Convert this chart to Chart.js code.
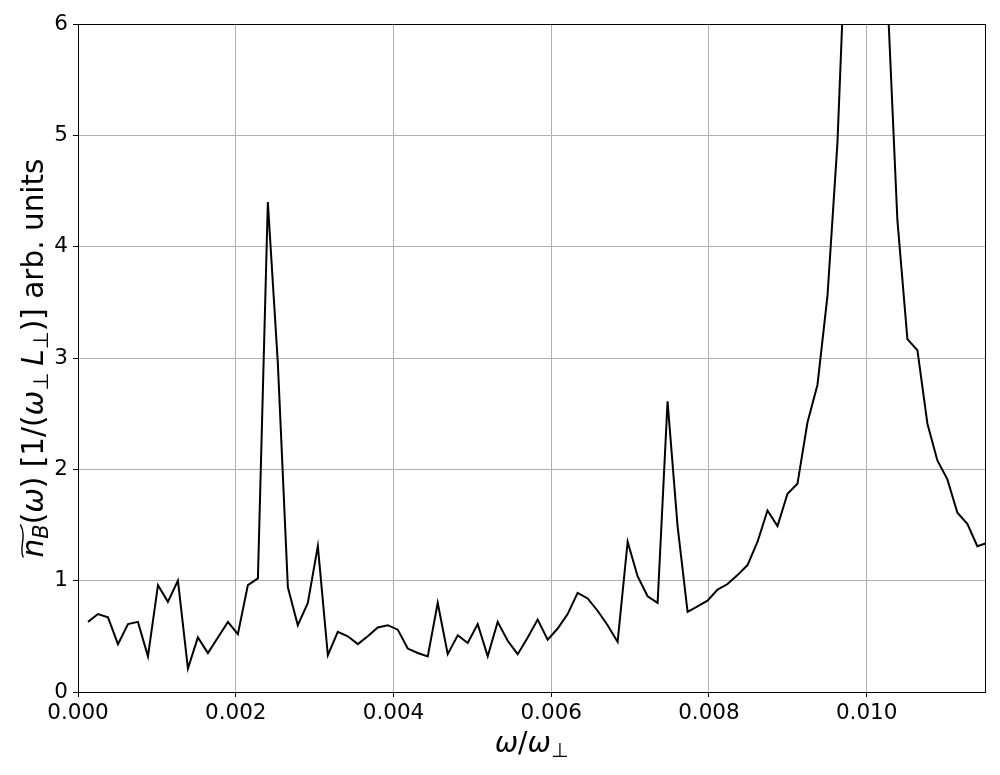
<!DOCTYPE html>
<html>
<head>
<meta charset="utf-8">
<script src="https://cdn.jsdelivr.net/npm/chart.js@4.4.1/dist/chart.umd.min.js"></script>
<style>
  html, body { margin: 0; padding: 0; background: #fff; }
  canvas { display: block; }
</style>
</head>
<body>
<canvas id="spectrum" width="1000" height="775"></canvas>
<script>
// frequency grid (omega / omega_perp)
const omega = [
  0.000127, 0.000253, 0.000380, 0.000507, 0.000634, 0.000760, 0.000887, 0.001014, 0.001140, 0.001267,
  0.001394, 0.001520, 0.001647, 0.001774, 0.001901, 0.002027, 0.002154, 0.002281, 0.002407, 0.002534,
  0.002661, 0.002787, 0.002914, 0.003041, 0.003168, 0.003294, 0.003421, 0.003548, 0.003674, 0.003801,
  0.003928, 0.004054, 0.004181, 0.004308, 0.004435, 0.004561, 0.004688, 0.004815, 0.004941, 0.005068,
  0.005195, 0.005321, 0.005448, 0.005575, 0.005702, 0.005828, 0.005955, 0.006082, 0.006208, 0.006335,
  0.006462, 0.006588, 0.006715, 0.006842, 0.006969, 0.007095, 0.007222, 0.007349, 0.007475, 0.007602,
  0.007729, 0.007855, 0.007982, 0.008109, 0.008236, 0.008362, 0.008489, 0.008616, 0.008742, 0.008869,
  0.008996, 0.009122, 0.009249, 0.009376, 0.009503, 0.009629, 0.009756, 0.009883, 0.010009, 0.010136,
  0.010263, 0.010389, 0.010516, 0.010643, 0.010770, 0.010896, 0.011023, 0.011150, 0.011276, 0.011403,
  0.011530
];

// spectral density, arb. units (peak near 0.0099 runs off the top)
const nB = [
  0.63, 0.70, 0.67, 0.43, 0.61, 0.63, 0.32, 0.96, 0.81, 1.00,
  0.21, 0.49, 0.35, 0.49, 0.63, 0.52, 0.96, 1.02, 4.40, 2.95,
  0.94, 0.60, 0.80, 1.31, 0.33, 0.54, 0.50, 0.43, 0.50, 0.58,
  0.60, 0.56, 0.39, 0.35, 0.32, 0.80, 0.34, 0.51, 0.44, 0.61,
  0.32, 0.63, 0.46, 0.34, 0.49, 0.65, 0.47, 0.57, 0.70, 0.89,
  0.84, 0.73, 0.60, 0.45, 1.35, 1.04, 0.86, 0.80, 2.61, 1.49,
  0.72, 0.77, 0.82, 0.92, 0.97, 1.05, 1.14, 1.35, 1.63, 1.49,
  1.78, 1.87, 2.42, 2.76, 3.56, 4.93, 7.2, 12.0, 20.0, 10.0,
  6.26, 4.24, 3.17, 3.07, 2.41, 2.08, 1.91, 1.61, 1.51, 1.31,
  1.34
];

const xTicks = [0, 0.002, 0.004, 0.006, 0.008, 0.010];
const yTicks = [0, 1, 2, 3, 4, 5, 6];

const FONT = '"DejaVu Sans"';
Chart.defaults.font.family = FONT;
Chart.defaults.color = '#000';

// draw a row of text runs centred on cx, returns the runs with x/w filled
function drawRuns(ctx, runs, cx, base) {
  let total = 0;
  runs.forEach(r => { ctx.font = r.f; r.w = ctx.measureText(r.t).width; total += r.w; });
  let x = cx - total / 2;
  runs.forEach(r => {
    ctx.font = r.f;
    ctx.fillText(r.t, x, base + (r.dy || 0));
    r.x = x;
    x += r.w;
  });
  return runs;
}

function fonts(S) {
  return {
    rm: S + 'px ' + FONT,
    it: 'italic ' + S + 'px ' + FONT,
    sub: Math.round(S * 0.7) + 'px ' + FONT,
    subIt: 'italic ' + Math.round(S * 0.7) + 'px ' + FONT
  };
}

const mathTitles = {
  id: 'mathTitles',
  afterDraw(chart) {
    const ctx = chart.ctx, a = chart.chartArea;
    ctx.save();
    // top + right spines
    ctx.strokeStyle = '#000';
    ctx.lineWidth = 1;
    ctx.beginPath();
    ctx.moveTo(a.left, a.top + 0.5);
    ctx.lineTo(a.right + 0.5, a.top + 0.5);
    ctx.lineTo(a.right + 0.5, a.bottom);
    ctx.stroke();

    ctx.fillStyle = '#000';
    ctx.textBaseline = 'alphabetic';
    ctx.textAlign = 'left';

    // x label: ω/ω⊥
    let f = fonts(28);
    drawRuns(ctx, [
      { t: 'ω', f: f.it }, { t: '/', f: f.rm }, { t: 'ω', f: f.it },
      { t: '⊥', f: f.sub, dy: 5 }
    ], (a.left + a.right) / 2, 752);

    // y label: ñ_B(ω) [1/(ω⊥ L⊥)] arb. units
    const S = 29.5;
    f = fonts(S);
    ctx.translate(43, (a.top + a.bottom) / 2);
    ctx.rotate(-Math.PI / 2);
    const runs = drawRuns(ctx, [
      { t: 'n', f: f.it }, { t: 'B', f: f.subIt, dy: 5 },
      { t: '(', f: f.rm }, { t: 'ω', f: f.it }, { t: ') [1/(', f: f.rm },
      { t: 'ω', f: f.it }, { t: '⊥', f: f.sub, dy: 5 }, { t: ' ', f: f.sub },
      { t: 'L', f: f.it }, { t: '⊥', f: f.sub, dy: 5 },
      { t: ')] arb. units', f: f.rm }
    ], 0, 0);
    // wide tilde over n_B
    const x0 = runs[0].x, x1 = runs[1].x + runs[1].w;
    const ty = -S * 0.7;
    ctx.lineWidth = 1.4;
    ctx.beginPath();
    ctx.moveTo(x0, ty + 1);
    ctx.bezierCurveTo(x0 + (x1 - x0) * 0.3, ty - 4, x0 + (x1 - x0) * 0.6, ty + 5, x1, ty - 2);
    ctx.stroke();
    ctx.restore();
  }
};

new Chart(document.getElementById('spectrum'), {
  type: 'line',
  data: {
    datasets: [{
      data: omega.map((w, i) => ({ x: w, y: nB[i] })),
      borderColor: '#000',
      borderWidth: 2,
      pointRadius: 0,
      tension: 0,
      fill: false
    }]
  },
  options: {
    responsive: false,
    animation: false,
    layout: { padding: { top: 24, right: 15, left: 0, bottom: 0 } },
    plugins: { legend: { display: false }, tooltip: { enabled: false } },
    scales: {
      x: {
        type: 'linear',
        min: 0,
        max: 0.0115,
        afterFit: s => { s.height = 83; },
        afterBuildTicks: s => { s.ticks = xTicks.map(v => ({ value: v })); },
        ticks: {
          includeBounds: false,
          font: { size: 21.5 },
          padding: 4,
          maxRotation: 0,
          callback: v => v.toFixed(3)
        },
        grid: { color: '#b0b0b0', tickColor: '#000', tickLength: 5, lineWidth: 1 },
        border: { color: '#000', width: 1 }
      },
      y: {
        min: 0,
        max: 6,
        afterFit: s => { s.width = 78; },
        afterBuildTicks: s => { s.ticks = yTicks.map(v => ({ value: v })); },
        ticks: { font: { size: 21.5 }, padding: 5 },
        grid: { color: '#b0b0b0', tickColor: '#000', tickLength: 5, lineWidth: 1 },
        border: { color: '#000', width: 1 }
      }
    }
  },
  plugins: [mathTitles]
});
</script>
</body>
</html>
